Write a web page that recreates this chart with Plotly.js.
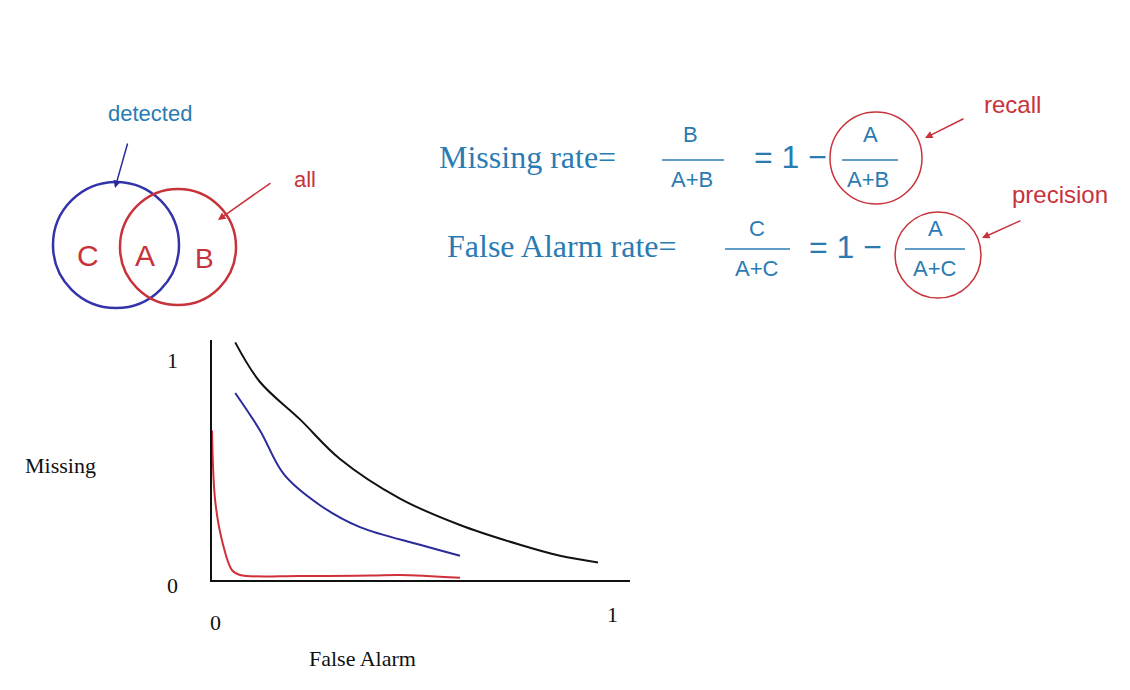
<!DOCTYPE html>
<html>
<head>
<meta charset="utf-8">
<script src="https://cdn.plot.ly/plotly-3.0.1.min.js"></script>
<style>html,body{margin:0;padding:0;background:#fff}</style>
</head>
<body>
<div id="chart" style="width:1130px;height:690px"></div>
<script>
// curves (x = false alarm, y = missing)
const blackX = [0.058, 0.12, 0.22, 0.32, 0.47, 0.62, 0.77, 0.87, 0.965];
const blackY = [1.08, 0.90, 0.73, 0.55, 0.37, 0.25, 0.16, 0.11, 0.08];
const blueX = [0.058, 0.12, 0.18, 0.27, 0.37, 0.52, 0.62];
const blueY = [0.85, 0.68, 0.48, 0.34, 0.24, 0.16, 0.11];
const redX = [0.0, 0.008, 0.025, 0.05, 0.07, 0.22, 0.40, 0.47, 0.62];
const redY = [0.68, 0.36, 0.18, 0.045, 0.023, 0.018, 0.02, 0.023, 0.01];
const tickVals = [0, 1];
const tickText = ['0', '1'];

const L = 212, R = 630, T = 340, B = 580;
const px = x => (x - L) / (R - L);
const py = y => (B - y) / (B - T);

const blueText = '#2b7bb3';
const red = '#c8323a';
const serif = 'Liberation Serif, serif';
const sans = 'Liberation Sans, Arial, sans-serif';

function line(x, y, color) {
    return { x: x, y: y, mode: 'lines', type: 'scatter', line: { color: color, width: 2, shape: 'spline' }, hoverinfo: 'skip' };
}

function txt(x, y, text, size, color, font) {
    return { xref: 'paper', yref: 'paper', x: px(x), y: py(y), text: text, showarrow: false,
        font: { size: size, color: color, family: font || serif }, xanchor: 'center', yanchor: 'middle' };
}

function arrow(x, y, ax, ay, color) {
    return { xref: 'paper', yref: 'paper', x: px(x), y: py(y), axref: 'pixel', ayref: 'pixel',
        ax: ax - x, ay: ay - y, text: '', showarrow: true, arrowhead: 2, arrowwidth: 1.5, arrowcolor: color };
}

function circle(cx, cy, r, color, w) {
    return { type: 'circle', xref: 'paper', yref: 'paper', x0: px(cx - r), x1: px(cx + r),
        y0: py(cy + r), y1: py(cy - r), line: { color: color, width: w } };
}

function bar(x0, x1, y) {
    return { type: 'line', xref: 'paper', yref: 'paper', x0: px(x0), x1: px(x1), y0: py(y), y1: py(y),
        line: { color: blueText, width: 1.5 } };
}

const annotations = [
    txt(150, 113, 'detected', 22, blueText, sans),
    txt(305, 180, 'all', 22, red, sans),
    txt(88, 255, 'C', 30, red, sans),
    txt(145, 255, 'A', 30, red, sans),
    txt(204, 258, 'B', 28, red, sans),
    arrow(115, 188, 128, 142, '#2a2a9a'),
    arrow(218, 220, 272, 182, red),
    txt(527, 157, 'Missing rate=', 32, blueText),
    txt(690, 135, 'B', 22, blueText, sans),
    txt(692, 179, 'A+B', 22, blueText, sans),
    txt(790, 157, '= 1 −', 32, blueText, sans),
    txt(870, 135, 'A', 22, blueText, sans),
    txt(868, 179, 'A+B', 22, blueText, sans),
    txt(1012, 105, 'recall', 24, red, sans),
    arrow(925, 138, 965, 118, red),
    txt(562, 246, 'False Alarm rate=', 32, blueText),
    txt(757, 228, 'C', 22, blueText, sans),
    txt(757, 268, 'A+C', 22, blueText, sans),
    txt(845, 247, '= 1 −', 32, blueText, sans),
    txt(935, 228, 'A', 22, blueText, sans),
    txt(935, 268, 'A+C', 22, blueText, sans),
    txt(1060, 195, 'precision', 24, red, sans),
    arrow(982, 238, 1022, 220, red),
    txt(60, 465, 'Missing', 22, '#111'),
    txt(362, 658, 'False Alarm', 22, '#111'),
    txt(172, 360, tickText[1], 22, '#111'),
    txt(172, 585, tickText[0], 22, '#111'),
    txt(215, 622, tickText[0], 22, '#111'),
    txt(612, 614, tickText[1], 22, '#111')
];

const shapes = [
    circle(116, 245, 63, '#3333aa', 2.5),
    circle(178, 247, 58, red, 2.5),
    bar(662, 724, 160),
    bar(842, 898, 160),
    bar(725, 790, 249),
    bar(905, 965, 249),
    circle(876, 158, 46, red, 1.5),
    circle(938, 255, 43, red, 1.5)
];

const layout = {
    width: 1130, height: 690,
    margin: { l: L, r: 1130 - R, t: T, b: 690 - B },
    paper_bgcolor: '#fff', plot_bgcolor: '#fff',
    showlegend: false,
    xaxis: { range: [0, (R - L) / 400], tickvals: tickVals, showticklabels: false, ticks: '',
        showgrid: false, zeroline: false, showline: true, linecolor: '#111', linewidth: 2, fixedrange: true },
    yaxis: { range: [0, (B - T) / 220], tickvals: tickVals, showticklabels: false, ticks: '',
        showgrid: false, zeroline: false, showline: true, linecolor: '#111', linewidth: 2, fixedrange: true },
    annotations: annotations,
    shapes: shapes
};

Plotly.newPlot('chart', [line(blackX, blackY, '#111'), line(blueX, blueY, '#2a2a9a'), line(redX, redY, '#d0303a')],
    layout, { displayModeBar: false, staticPlot: true });
</script>
</body>
</html>
